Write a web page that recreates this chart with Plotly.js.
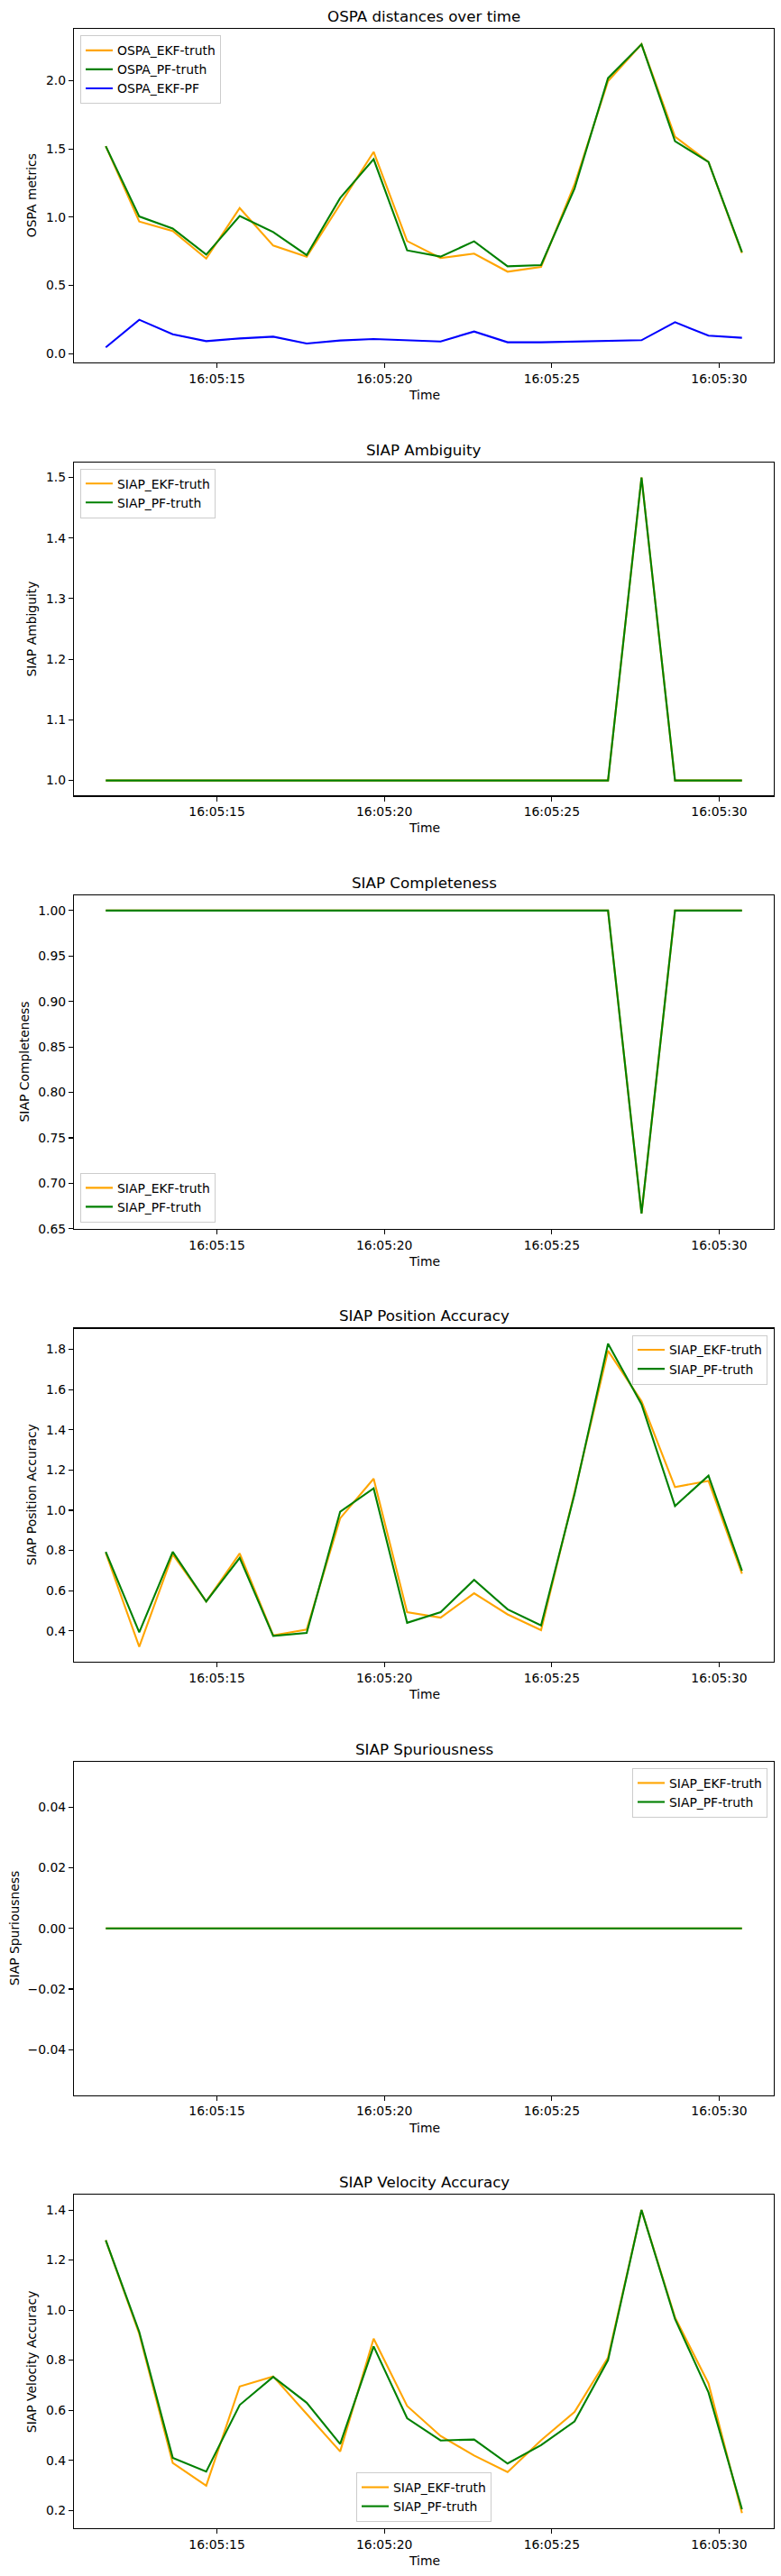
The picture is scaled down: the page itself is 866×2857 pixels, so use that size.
<!DOCTYPE html>
<html>
<head>
<meta charset="utf-8">
<script src="https://cdn.plot.ly/plotly-3.0.1.min.js"></script>
<style>
  html, body { margin: 0; padding: 0; background: #ffffff; }
  #chart { width: 866px; height: 2857px; }
</style>
</head>
<body>
<div id="chart"></div>
<script>
// Sample times (one scan per second)
const times = [
  '16:05:11.68', '16:05:12.68', '16:05:13.68', '16:05:14.68', '16:05:15.68',
  '16:05:16.68', '16:05:17.68', '16:05:18.68', '16:05:19.68', '16:05:20.68',
  '16:05:21.68', '16:05:22.68', '16:05:23.68', '16:05:24.68', '16:05:25.68',
  '16:05:26.68', '16:05:27.68', '16:05:28.68', '16:05:29.68', '16:05:30.68'
];

// OSPA distances
const ospaEkfTruth = [1.520, 0.968, 0.898, 0.697, 1.067, 0.792, 0.711, 1.090, 1.478, 0.825,
                      0.700, 0.733, 0.601, 0.636, 1.240, 1.996, 2.266, 1.589, 1.404, 0.737];
const ospaPfTruth  = [1.520, 1.005, 0.917, 0.726, 1.008, 0.891, 0.722, 1.140, 1.424, 0.757,
                      0.711, 0.823, 0.640, 0.649, 1.210, 2.018, 2.266, 1.556, 1.404, 0.744];
const ospaEkfPf    = [0.047, 0.249, 0.143, 0.092, 0.112, 0.125, 0.075, 0.097, 0.108, 0.101,
                      0.090, 0.163, 0.084, 0.084, 0.090, 0.092, 0.099, 0.231, 0.132, 0.117];

// SIAP ambiguity
const ambEkfTruth = [1, 1, 1, 1, 1, 1, 1, 1, 1, 1, 1, 1, 1, 1, 1, 1, 1.5, 1, 1, 1];
const ambPfTruth  = [1, 1, 1, 1, 1, 1, 1, 1, 1, 1, 1, 1, 1, 1, 1, 1, 1.5, 1, 1, 1];

// SIAP completeness
const compEkfTruth = [1, 1, 1, 1, 1, 1, 1, 1, 1, 1, 1, 1, 1, 1, 1, 1, 0.6667, 1, 1, 1];
const compPfTruth  = [1, 1, 1, 1, 1, 1, 1, 1, 1, 1, 1, 1, 1, 1, 1, 1, 0.6667, 1, 1, 1];

// SIAP position accuracy
const posEkfTruth = [0.788, 0.321, 0.781, 0.546, 0.785, 0.378, 0.407, 0.960, 1.157, 0.493,
                     0.466, 0.587, 0.482, 0.404, 1.090, 1.793, 1.542, 1.115, 1.146, 0.684];
const posPfTruth  = [0.793, 0.393, 0.793, 0.546, 0.763, 0.375, 0.390, 0.993, 1.109, 0.440,
                     0.493, 0.654, 0.507, 0.427, 1.080, 1.828, 1.527, 1.021, 1.172, 0.699];

// SIAP spuriousness
const spurEkfTruth = [0, 0, 0, 0, 0, 0, 0, 0, 0, 0, 0, 0, 0, 0, 0, 0, 0, 0, 0, 0];
const spurPfTruth  = [0, 0, 0, 0, 0, 0, 0, 0, 0, 0, 0, 0, 0, 0, 0, 0, 0, 0, 0, 0];

// SIAP velocity accuracy
const velEkfTruth = [1.279, 0.905, 0.389, 0.298, 0.695, 0.735, 0.585, 0.435, 0.886, 0.617,
                     0.497, 0.419, 0.353, 0.480, 0.593, 0.810, 1.400, 0.971, 0.707, 0.189];
const velPfTruth  = [1.279, 0.913, 0.410, 0.355, 0.621, 0.733, 0.630, 0.465, 0.855, 0.568,
                     0.479, 0.483, 0.387, 0.460, 0.555, 0.800, 1.400, 0.965, 0.671, 0.204];

// Panel descriptions
const panels = [
  { title: 'OSPA distances over time', ylabel: 'OSPA metrics',
    series: [['OSPA_EKF-truth', ospaEkfTruth, 'orange'],
             ['OSPA_PF-truth', ospaPfTruth, 'green'],
             ['OSPA_EKF-PF', ospaEkfPf, 'blue']],
    dtick: 0.5, fmt: '.1f', legend: 'upper left', ylabelX: 35 },
  { title: 'SIAP Ambiguity', ylabel: 'SIAP Ambiguity',
    series: [['SIAP_EKF-truth', ambEkfTruth, 'orange'],
             ['SIAP_PF-truth', ambPfTruth, 'green']],
    dtick: 0.1, fmt: '.1f', legend: 'upper left', ylabelX: 35 },
  { title: 'SIAP Completeness', ylabel: 'SIAP Completeness',
    series: [['SIAP_EKF-truth', compEkfTruth, 'orange'],
             ['SIAP_PF-truth', compPfTruth, 'green']],
    dtick: 0.05, fmt: '.2f', legend: 'lower left', ylabelX: 26.5 },
  { title: 'SIAP Position Accuracy', ylabel: 'SIAP Position Accuracy',
    series: [['SIAP_EKF-truth', posEkfTruth, 'orange'],
             ['SIAP_PF-truth', posPfTruth, 'green']],
    dtick: 0.2, fmt: '.1f', legend: 'upper right', ylabelX: 35 },
  { title: 'SIAP Spuriousness', ylabel: 'SIAP Spuriousness',
    series: [['SIAP_EKF-truth', spurEkfTruth, 'orange'],
             ['SIAP_PF-truth', spurPfTruth, 'green']],
    dtick: 0.02, fmt: '.2f', legend: 'upper right', ylabelX: 15.5 },
  { title: 'SIAP Velocity Accuracy', ylabel: 'SIAP Velocity Accuracy',
    series: [['SIAP_EKF-truth', velEkfTruth, 'orange'],
             ['SIAP_PF-truth', velPfTruth, 'green']],
    dtick: 0.2, fmt: '.1f', legend: 'lower center', ylabelX: 35 }
];

const W = 866, H = 2857;
const AX_LEFT = 82, AX_RIGHT = 858;
const AX_TOP0 = 32.3, PITCH = 480.4, AX_H = 369.7;
const FONT = 'DejaVu Sans, Verdana, sans-serif';
const colorMap = { orange: '#ffa500', green: '#008000', blue: '#0000ff' };

const px2x = p => p / W;
const px2y = p => 1 - p / H;

function toMs(t) {
  const [h, m, s] = t.split(':');
  return Math.round((+h * 3600 + +m * 60 + parseFloat(s)) * 1000);
}
const xMs = times.map(toMs);

// autoscale with a 5% margin on both ends
function padded(arrs) {
  const all = [].concat(...arrs);
  const lo = Math.min(...all), hi = Math.max(...all);
  const span = hi - lo;
  if (span === 0) return [lo - 0.055, hi + 0.055];
  return [lo - 0.05 * span, hi + 0.05 * span];
}
const xRange = padded([xMs]);

const traces = [];
const layout = {
  width: W, height: H,
  margin: { l: 0, r: 0, t: 0, b: 0, pad: 0 },
  paper_bgcolor: '#ffffff', plot_bgcolor: '#ffffff',
  font: { family: FONT, size: 13.9, color: '#000000' },
  showlegend: true,
  annotations: []
};

panels.forEach((p, k) => {
  const n = k + 1;
  const sfx = n === 1 ? '' : String(n);
  const top = AX_TOP0 + PITCH * k, bottom = top + AX_H;
  const legendKey = 'legend' + sfx;

  p.series.forEach(([name, vals, c]) => {
    traces.push({
      type: 'scatter', mode: 'lines', name: name,
      x: xMs, y: vals,
      xaxis: 'x' + sfx, yaxis: 'y' + sfx,
      line: { color: colorMap[c], width: 2.1 },
      legend: legendKey, hoverinfo: 'skip'
    });
  });

  layout['xaxis' + sfx] = {
    type: 'date', domain: [px2x(AX_LEFT), px2x(AX_RIGHT)], anchor: 'y' + sfx,
    range: xRange, tick0: 0, dtick: 5000, tickformat: '%H:%M:%S',
    showgrid: false, zeroline: false, showline: true, mirror: true,
    linecolor: '#000000', linewidth: 1.1,
    ticks: 'outside', ticklen: 5, tickwidth: 1.1, tickcolor: '#000000',
    tickfont: { family: FONT, size: 13.9, color: '#000000' },
    fixedrange: true
  };
  layout['yaxis' + sfx] = {
    domain: [px2y(bottom), px2y(top)], anchor: 'x' + sfx,
    range: padded(p.series.map(s => s[1])),
    tick0: 0, dtick: p.dtick, tickformat: p.fmt,
    showgrid: false, zeroline: false, showline: true, mirror: true,
    linecolor: '#000000', linewidth: 1.1,
    ticks: 'outside', ticklen: 5, tickwidth: 1.1, tickcolor: '#000000',
    tickfont: { family: FONT, size: 13.9, color: '#000000' },
    fixedrange: true
  };

  // legend placement inside the axes
  const inset = 7;
  const leg = {
    bgcolor: 'rgba(255,255,255,0.8)', bordercolor: '#cccccc', borderwidth: 1,
    font: { family: FONT, size: 13.9, color: '#000000' },
    itemwidth: 30, tracegroupgap: 0, xref: 'paper', yref: 'paper'
  };
  if (p.legend === 'upper left') {
    Object.assign(leg, { x: px2x(AX_LEFT + inset), y: px2y(top + inset), xanchor: 'left', yanchor: 'top' });
  } else if (p.legend === 'lower left') {
    Object.assign(leg, { x: px2x(AX_LEFT + inset), y: px2y(bottom - inset), xanchor: 'left', yanchor: 'bottom' });
  } else if (p.legend === 'upper right') {
    Object.assign(leg, { x: px2x(AX_RIGHT - inset), y: px2y(top + inset), xanchor: 'right', yanchor: 'top' });
  } else {
    Object.assign(leg, { x: px2x((AX_LEFT + AX_RIGHT) / 2), y: px2y(bottom - inset), xanchor: 'center', yanchor: 'bottom' });
  }
  layout[legendKey] = leg;

  const cx = (AX_LEFT + AX_RIGHT) / 2;
  // panel title
  layout.annotations.push({
    text: p.title, xref: 'paper', yref: 'paper', showarrow: false,
    x: px2x(cx), y: px2y(top - 14), xanchor: 'center', yanchor: 'middle',
    font: { family: FONT, size: 16.7, color: '#000000' }
  });
  // x axis label
  layout.annotations.push({
    text: 'Time', xref: 'paper', yref: 'paper', showarrow: false,
    x: px2x(cx), y: px2y(bottom + 36), xanchor: 'center', yanchor: 'middle',
    font: { family: FONT, size: 13.9, color: '#000000' }
  });
  // y axis label
  layout.annotations.push({
    text: p.ylabel, xref: 'paper', yref: 'paper', showarrow: false,
    x: px2x(p.ylabelX), y: px2y((top + bottom) / 2), xanchor: 'center', yanchor: 'middle',
    textangle: -90,
    font: { family: FONT, size: 13.9, color: '#000000' }
  });
});

Plotly.newPlot('chart', traces, layout, { staticPlot: true, displayModeBar: false });
</script>
</body>
</html>
